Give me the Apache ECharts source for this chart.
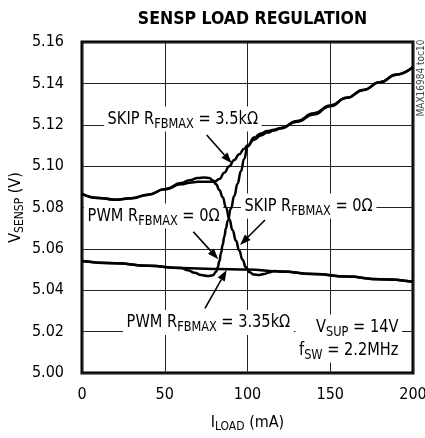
<!DOCTYPE html>
<html><head><meta charset="utf-8">
<script src="https://cdn.jsdelivr.net/npm/echarts@6/dist/echarts.min.js"></script>
<style>html,body{margin:0;padding:0;background:#fff}#c{width:425px;height:438px}</style>
</head><body><div id="c"></div>
<script>
// ---- data ----
const xTickStep = 50;
const yTickStep = 0.02;

const skip35X = [0,10,20,30,40,50,60,65,70,75,80,83,86,89,92,95,98,100,104,108,112,116,120,130,140,150,160,170,180,190,200];
const skip35Y = [5.0866,5.0846,5.0838,5.0845,5.0862,5.0888,5.0912,5.0920,5.0924,5.0924,5.0924,5.0938,5.0968,5.1000,5.1030,5.1058,5.1084,5.1100,5.1128,5.1148,5.1162,5.1172,5.1182,5.1218,5.1255,5.1293,5.1330,5.1368,5.1405,5.1443,5.1480];

const skip0X = [0,10,20,30,40,50,60,65,70,74,77,79,81,83,85,87,89,91,93,95,97,99,101,104,107,110,113,116,120,140,160,180,200];
const skip0Y = [5.0866,5.0846,5.0838,5.0845,5.0862,5.0888,5.0918,5.0932,5.0942,5.0945,5.0942,5.0932,5.0912,5.0885,5.0850,5.0800,5.0745,5.0690,5.0640,5.0592,5.0548,5.0512,5.0488,5.0476,5.0474,5.0478,5.0486,5.0493,5.0491,5.0479,5.0466,5.0453,5.0441];

const pwm0X = [0,20,40,60,64,68,72,76,79,81,82,83,84,85,86,87,88,90,92,94,96,98,100,104,108,112,116,120,130,140,150,160,170,180,190,200];
const pwm0Y = [5.0541,5.0530,5.0518,5.0507,5.0497,5.0484,5.0474,5.0469,5.0472,5.0488,5.0510,5.0540,5.0580,5.0620,5.0660,5.0700,5.0735,5.0795,5.0855,5.0915,5.0975,5.1035,5.1095,5.1138,5.1158,5.1170,5.1176,5.1184,5.1215,5.1250,5.1290,5.1330,5.1368,5.1405,5.1442,5.1480];

const pwm335X = [0,20,40,60,80,100,120,140,160,180,200];
const pwm335Y = [5.0541,5.0530,5.0518,5.0507,5.0503,5.0500,5.0491,5.0479,5.0466,5.0453,5.0441];

const pairs = (xs, ys) => xs.map((x, i) => [x, ys[i]]);

const FONT = '"Liberation Sans Narrow","DejaVu Sans Condensed","Liberation Sans",Arial,sans-serif';
const richDef = {
  m: {fontSize: 18, fontFamily: FONT, lineHeight: 23, color: '#000', fill: '#000'},
  s: {fontSize: 14, fontFamily: FONT, lineHeight: 13, padding: [10, 0, 0, 0], color: '#000', fill: '#000'}
};
const axisRich = {
  m: {fontSize: 16, fontFamily: FONT, lineHeight: 20, color: '#000'},
  s: {fontSize: 12, fontFamily: FONT, lineHeight: 12, padding: [8, 0, 0, 0], color: '#000'}
};

function label(text, x, y, align) {
  return {
    type: 'text', x: x, y: y, z: 1, scaleX: 0.9,
    style: {
      text: text, rich: richDef, align: align || 'left', verticalAlign: 'middle',
      backgroundColor: '#fff', padding: [1, 4, 1, 4], fill: '#000'
    }
  };
}
function arrow(x1, y1, x2, y2) {
  const dx = x2 - x1, dy = y2 - y1, L = Math.hypot(dx, dy), ux = dx / L, uy = dy / L;
  const hl = 11, hw = 4;
  const bx = x2 - ux * hl, by = y2 - uy * hl;
  return [
    {type: 'line', z: 10, shape: {x1: x1, y1: y1, x2: bx, y2: by}, style: {stroke: '#000', lineWidth: 1.6}},
    {type: 'polygon', z: 10, shape: {points: [[x2, y2], [bx - uy * hw, by + ux * hw], [bx + uy * hw, by - ux * hw]]}, style: {fill: '#000'}}
  ];
}

const lineSeries = (name, xs, ys) => ({
  name: name, type: 'line', data: pairs(xs, ys), showSymbol: false,
  smooth: 0.5, smoothMonotone: 'x',
  lineStyle: {color: '#000', width: 2.5}, z: 2
});

const chart = echarts.init(document.getElementById('c'), null, {renderer: 'canvas'});
chart.setOption({
  animation: false,
  backgroundColor: '#fff',
  title: {
    text: 'SENSP LOAD REGULATION', left: 247.5, top: 5, textAlign: 'center',
    textStyle: {fontFamily: FONT, fontWeight: 'bold', fontSize: 17.5, color: '#000'}
  },
  grid: {left: 82, top: 42, width: 331, height: 331, outerBoundsMode: 'none', containLabel: false,
         show: true, borderColor: '#000', borderWidth: 3, backgroundColor: 'transparent'},
  xAxis: {
    type: 'value', min: 0, max: 200, interval: xTickStep,
    axisLine: {show: false}, axisTick: {show: false},
    splitLine: {show: true, lineStyle: {color: '#222', width: 1}},
    axisLabel: {margin: 14, fontFamily: FONT, fontSize: 16, color: '#000'},
    name: '{m|I}{s|LOAD}{m| (mA)}', nameLocation: 'middle', nameGap: 40, nameMoveOverlap: false,
    nameTextStyle: {rich: axisRich}
  },
  yAxis: {
    type: 'value', min: 5.00, max: 5.16, interval: yTickStep,
    axisLine: {show: false}, axisTick: {show: false},
    splitLine: {show: true, lineStyle: {color: '#222', width: 1}},
    axisLabel: {margin: 18, fontFamily: FONT, fontSize: 16, color: '#000', formatter: v => v.toFixed(2)},
    name: '{m|V}{s|SENSP}{m| (V)}', nameLocation: 'middle', nameGap: 56, nameRotate: 90, nameMoveOverlap: false,
    nameTextStyle: {rich: axisRich}
  },
  series: [
    lineSeries('SKIP RFBMAX = 3.5kΩ', skip35X, skip35Y),
    lineSeries('SKIP RFBMAX = 0Ω', skip0X, skip0Y),
    lineSeries('PWM RFBMAX = 0Ω', pwm0X, pwm0Y),
    lineSeries('PWM RFBMAX = 3.35kΩ', pwm335X, pwm335Y)
  ],
  graphic: [
    label('{m|SKIP R}{s|FBMAX}{m| = 3.5kΩ}', 104, 119),
    label('{m|PWM R}{s|FBMAX}{m| = 0Ω}', 84, 216),
    label('{m|SKIP R}{s|FBMAX}{m| = 0Ω}', 241, 206),
    label('{m|PWM R}{s|FBMAX}{m| = 3.35kΩ}', 123, 322.5),
    label('{m|V}{s|SUP}{m| = 14V}\n{m|f}{s|SW}{m| = 2.2MHz}', 402, 338.5, 'right'),
    ...arrow(206.7, 135, 231.7, 163.3),
    ...arrow(193.3, 231.7, 218.3, 259.3),
    ...arrow(265, 220, 240, 245),
    ...arrow(205, 308.3, 226.7, 270),
    {type: 'text', x: 421, y: 78, rotation: Math.PI / 2, z: 1,
     style: {text: 'MAX16984 toc10', fontFamily: FONT, fontSize: 10, fill: '#444', align: 'center', verticalAlign: 'middle'}}
  ]
});
</script></body></html>
